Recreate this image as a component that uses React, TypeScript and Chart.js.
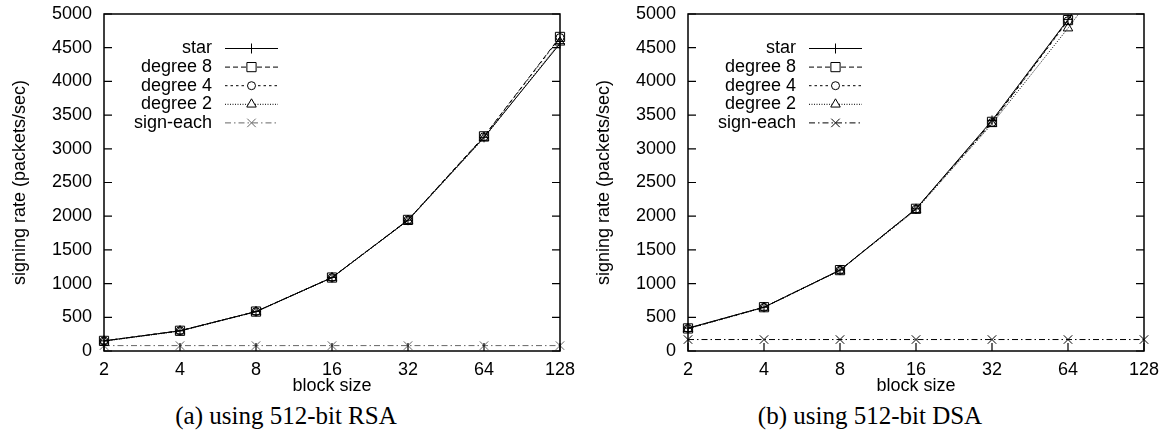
import React, { useEffect, useRef } from 'react';
import { Chart, registerables } from 'chart.js';
import { drawPoint } from 'chart.js/helpers';

Chart.register(...registerables);

// ---------- data ----------
const blockSizes = ['2', '4', '8', '16', '32', '64', '128'];
const seriesNames = ['star', 'degree 8', 'degree 4', 'degree 2', 'sign-each'];

const rsaStar = [150, 300, 585, 1090, 1940, 3170, 4560];
const rsaDegree8 = [150, 300, 585, 1090, 1945, 3185, 4660];
const rsaDegree4 = [150, 300, 585, 1090, 1945, 3180, 4650];
const rsaDegree2 = [145, 295, 580, 1085, 1935, 3160, 4580];
const rsaSignEach = [80, 80, 80, 80, 80, 80, 80];

const dsaStar = [340, 650, 1200, 2110, 3420, 4920, 6600];
const dsaDegree8 = [335, 650, 1200, 2110, 3400, 4910, 6550];
const dsaDegree4 = [335, 648, 1198, 2105, 3390, 4900, 6450];
const dsaDegree2 = [330, 645, 1195, 2095, 3370, 4790, 6300];
const dsaSignEach = [170, 170, 170, 170, 170, 170, 170];

const yMin = 0;
const yMax = 5000;
const yStep = 500;

const captionA = '(a) using 512-bit RSA';
const captionB = '(b) using 512-bit DSA';
const yTitle = 'signing rate (packets/sec)';
const xTitle = 'block size';

// ---------- styles ----------
const SANS = '"Liberation Sans", Arial, sans-serif';
const lineStyles = [
  { dash: [] as number[], point: 'cross', radius: 5 },
  { dash: [5, 3], point: 'rect', radius: 6.5 },
  { dash: [2.5, 3], point: 'circle', radius: 4 },
  { dash: [1, 1.5], point: 'triangle', radius: 5.5 },
  { dash: [6, 3, 1.5, 3], point: 'crossRot', radius: 6 },
];

const gnuBox = {
  id: 'gnuBox',
  afterDatasetsDraw(chart: any) {
    const { ctx, chartArea: a, scales } = chart;
    ctx.save();
    ctx.strokeStyle = '#000';
    ctx.lineWidth = 1.5;
    ctx.setLineDash([]);
    ctx.strokeRect(a.left, a.top, a.right - a.left, a.bottom - a.top);
    ctx.lineWidth = 1.2;
    ctx.beginPath();
    const ys = scales.y;
    ys.ticks.forEach((_t: any, i: number) => {
      const py = ys.getPixelForTick(i);
      ctx.moveTo(a.left, py);
      ctx.lineTo(a.left + 8, py);
      ctx.moveTo(a.right - 8, py);
      ctx.lineTo(a.right, py);
    });
    const xs = scales.x;
    xs.ticks.forEach((_t: any, i: number) => {
      const px = xs.getPixelForTick(i);
      ctx.moveTo(px, a.bottom);
      ctx.lineTo(px, a.bottom - 8);
    });
    ctx.stroke();
    ctx.restore();
  },
};

const gnuLegend = {
  id: 'gnuLegend',
  afterDraw(chart: any) {
    const { ctx, chartArea: a } = chart;
    const textRight = a.left + 108;
    const x0 = a.left + 121;
    const x1 = a.left + 174;
    const xm = (x0 + x1) / 2;
    ctx.save();
    ctx.font = `18px ${SANS}`;
    ctx.textAlign = 'right';
    ctx.textBaseline = 'middle';
    chart.data.datasets.forEach((ds: any, i: number) => {
      const y = a.top + 34.5 + i * 18.6;
      ctx.fillStyle = '#000';
      ctx.fillText(ds.label, textRight, y);
      ctx.strokeStyle = ds.borderColor;
      ctx.lineWidth = ds.borderWidth;
      ctx.setLineDash(ds.borderDash || []);
      ctx.beginPath();
      ctx.moveTo(x0, y);
      ctx.lineTo(x1, y);
      ctx.stroke();
      ctx.setLineDash([]);
      ctx.fillStyle = '#fff';
      ctx.strokeStyle = ds.pointBorderColor;
      ctx.lineWidth = 1;
      drawPoint(ctx, { pointStyle: ds.pointStyle, radius: ds.pointRadius, rotation: 0, borderWidth: 1 } as any, xm, y);
    });
    ctx.restore();
  },
};

function makeConfig(series: number[][], signColor: string): any {
  const datasets = series.map((vals, i) => {
    const color = i === 4 ? signColor : '#000';
    return {
      label: seriesNames[i],
      data: vals,
      borderColor: color,
      borderWidth: 1,
      borderDash: lineStyles[i].dash,
      pointStyle: lineStyles[i].point,
      pointRadius: lineStyles[i].radius,
      pointBorderColor: color,
      pointBackgroundColor: 'rgba(255,255,255,0)',
      pointBorderWidth: 1,
      fill: false,
      tension: 0,
      clip: { left: 10, right: 10, top: 0, bottom: 10 },
    };
  });
  return {
    type: 'line',
    data: { labels: blockSizes, datasets },
    options: {
      animation: false,
      responsive: false,
      maintainAspectRatio: false,
      events: [],
      layout: { padding: { top: 14, right: 24, left: 0, bottom: 0 } },
      plugins: { legend: { display: false }, tooltip: { enabled: false } },
      scales: {
        x: {
          type: 'category',
          offset: false,
          grid: { display: false, drawTicks: false },
          border: { display: false },
          ticks: {
            color: '#000',
            font: { family: SANS, size: 18 },
            padding: 8,
            autoSkip: false,
            maxRotation: 0,
          },
          title: {
            display: true,
            text: xTitle,
            color: '#000',
            font: { family: SANS, size: 18 },
            padding: { top: 0, bottom: 3 },
          },
          afterFit(scale: any) {
            scale.height = 49;
            scale.paddingLeft = 0;
            scale.paddingRight = 0;
          },
        },
        y: {
          min: yMin,
          max: yMax,
          grid: { display: false, drawTicks: false },
          border: { display: false },
          ticks: {
            stepSize: yStep,
            color: '#000',
            font: { family: SANS, size: 18 },
            padding: 12,
            callback: (v: any) => String(v),
          },
          title: {
            display: true,
            text: yTitle,
            color: '#000',
            font: { family: SANS, size: 18 },
            padding: { top: 9, bottom: 0 },
          },
          afterFit(scale: any) {
            scale.width = 104;
            scale.paddingTop = 0;
            scale.paddingBottom = 0;
          },
        },
      },
    },
    plugins: [gnuBox, gnuLegend],
  };
}

function Panel({ series, signColor, caption, left }: { series: number[][]; signColor: string; caption: string; left: number }) {
  const ref = useRef<HTMLCanvasElement | null>(null);
  useEffect(() => {
    if (!ref.current) return;
    const chart = new Chart(ref.current, makeConfig(series, signColor));
    return () => chart.destroy();
  }, []);
  return (
    <div style={{ position: 'absolute', left, top: 0, width: 584, height: 440 }}>
      <canvas ref={ref} width={584} height={400} style={{ position: 'absolute', left: 0, top: 0, width: 584, height: 400 }} />
      <div
        style={{
          position: 'absolute',
          left: 0,
          width: 572,
          top: 401,
          textAlign: 'center',
          fontFamily: '"Liberation Serif", "Times New Roman", serif',
          fontSize: 25,
          lineHeight: '30px',
          color: '#000',
        }}
      >
        {caption}
      </div>
    </div>
  );
}

export default function App() {
  return (
    <div style={{ position: 'absolute', left: 0, top: 0, width: 1168, height: 440, background: '#fff', overflow: 'hidden' }}>
      <Panel series={[rsaStar, rsaDegree8, rsaDegree4, rsaDegree2, rsaSignEach]} signColor="#666" caption={captionA} left={0} />
      <Panel series={[dsaStar, dsaDegree8, dsaDegree4, dsaDegree2, dsaSignEach]} signColor="#000" caption={captionB} left={584} />
    </div>
  );
}
